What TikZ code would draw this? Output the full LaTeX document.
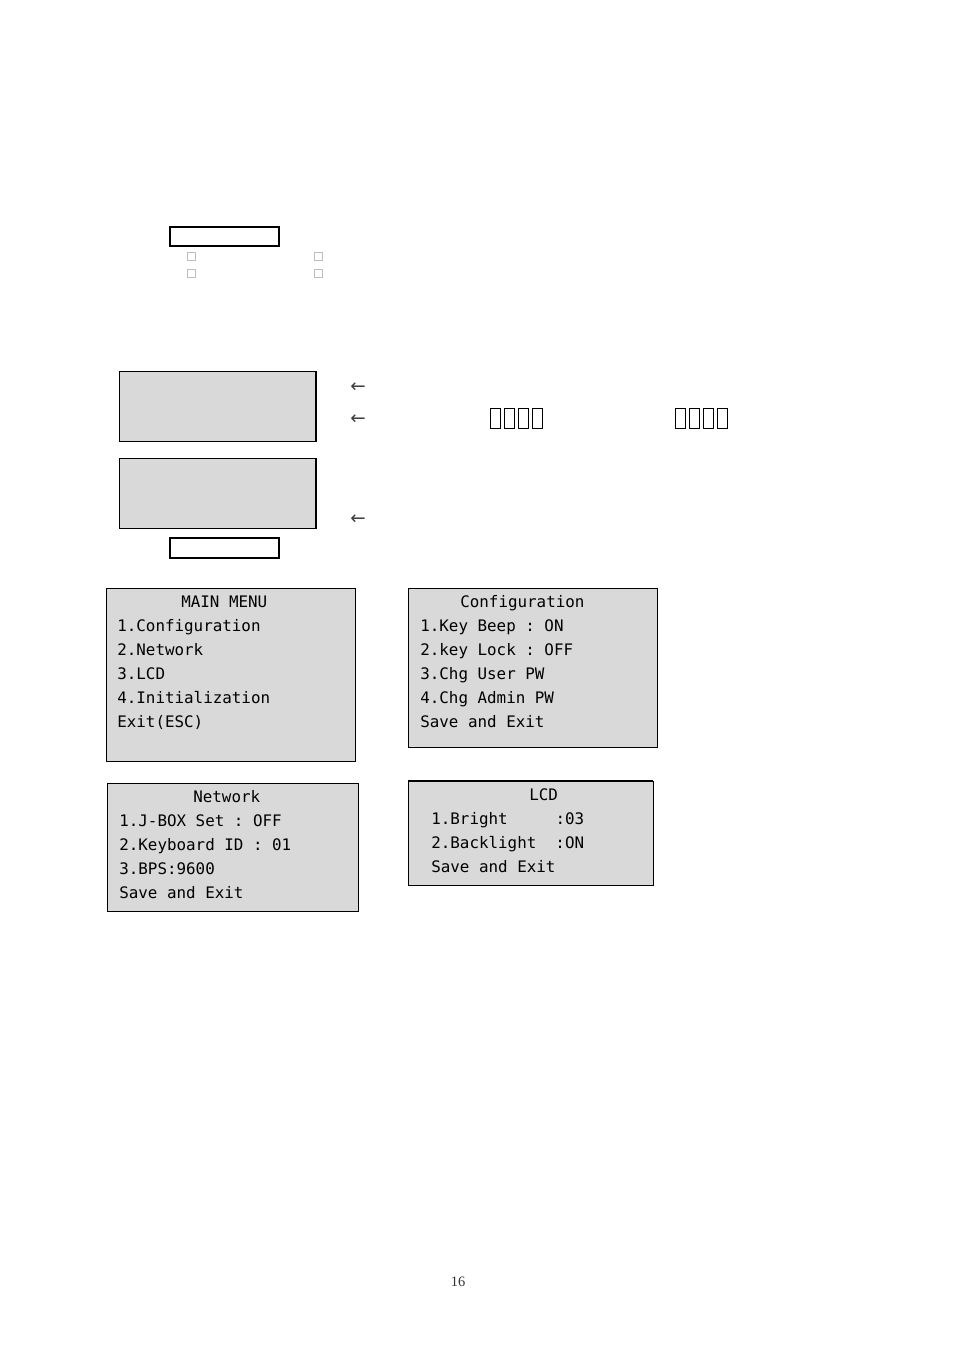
\documentclass[tikz,border=0pt]{standalone}
\usepackage{fontspec}
\setmonofont{DejaVu Sans Mono}
\newfontfamily\arrowfont{DejaVu Sans}
\newfontfamily\pagefont{Liberation Serif}
\definecolor{lcdgray}{HTML}{D9D9D9}
\definecolor{tofugray}{HTML}{BDBDBD}
\frenchspacing

\begin{document}
\begin{tikzpicture}[x=0.624pt, y=-0.624pt,
    menubox/.style={fill=lcdgray, draw=black, line width=0.6pt},
    menuline/.style={anchor=base west, inner sep=0pt,
        font=\ttfamily\fontsize{9.9}{12}\selectfont},
    backarrow/.style={inner sep=0pt, text=black!75,
        font=\arrowfont\fontsize{11.5}{12}\selectfont}]

\useasboundingbox (0,0) rectangle (954,1351);

% --- MACRO: DRAW MENU SCREEN ---
% #1: name, #2-#5: box corners, #6: text left, #7: title left
% #8: title, #9: menu lines
\newcommand{\drawMenu}[9]{
    \filldraw[menubox] (#2,#3) rectangle (#4,#5);
    \node[menuline] (#1-title) at (#7,{#3+19}) {#8};
    \foreach \txt [count=\i] in {#9} {
        \node[menuline] (#1-\i) at (#6,{#3+19+24*\i}) {\txt};
    }
}

% --- TOP LABEL ---
\draw[line width=1pt] (170,227) rectangle (279,246);
\foreach \x in {191,318} {
    \foreach \y in {256,273} {
        \draw[tofugray, line width=0.6pt] (\x-4,\y-4) rectangle (\x+4,\y+4);
    }
}

% --- BLANK SCREENS ---
\foreach \top/\bot in {371/441, 458/528} {
    \filldraw[menubox] (119,\top) rectangle (316,\bot);
    \draw[line width=1.8pt] (316,\top) -- (316,\bot);
}
\draw[line width=0.9pt] (170,538) rectangle (279,558);

% --- ARROWS ---
\node[backarrow] (arrowA) at (358,388) {←};
\node[backarrow] (arrowB) at (358,420) {←};
\node[backarrow] (arrowC) at (358,520) {←};

% --- MISSING GLYPHS ---
\foreach \gx in {490,675} {
    \foreach \k in {0,...,3} {
        \draw[line width=0.6pt] ({\gx+14.2*\k},408) rectangle ++(10,20);
    }
}

% --- MENUS ---
\drawMenu{main}{106}{588}{355}{761}{117}{181}{MAIN MENU}
    {1.Configuration, 2.Network, 3.LCD, 4.Initialization, Exit(ESC)}
\drawMenu{config}{408}{588}{657}{747}{420}{460}{Configuration}
    {1.Key Beep : ON, 2.key Lock : OFF, 3.Chg User PW, 4.Chg Admin PW, Save and Exit}
\drawMenu{net}{107}{783}{358}{911}{119}{193}{Network}
    {1.J-BOX Set : OFF, 2.Keyboard ID : 01, 3.BPS:9600, Save and Exit}
\drawMenu{lcd}{408}{781}{653}{885}{431}{529}{LCD}
    {1.Bright\ \ \ \ \ :03, 2.Backlight\ \ :ON, Save and Exit}
\draw[line width=1.4pt] (408,781) -- (653,781);

% --- PAGE NUMBER ---
\node[font=\pagefont\fontsize{9}{11}\selectfont, text=black!80] (pagenum) at (458,1282) {16};

\end{tikzpicture}
\end{document}
